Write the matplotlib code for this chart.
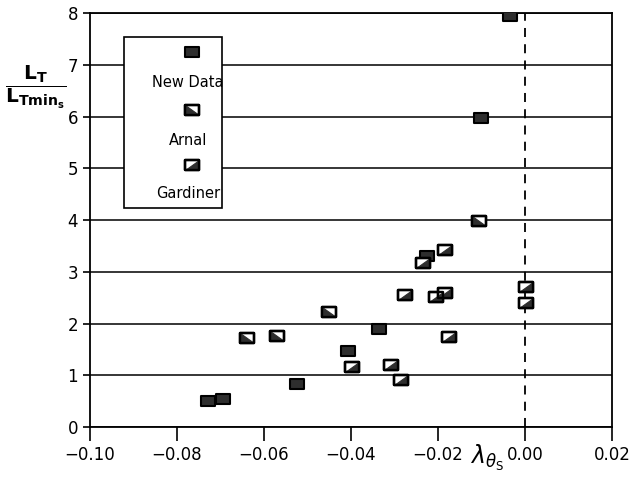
import numpy as np
import matplotlib
matplotlib.use("Agg")
import matplotlib.pyplot as plt
from matplotlib.path import Path

# ---- data ----
new_x = [-0.0034, -0.0100, -0.0226, -0.0336, -0.0408, -0.0525, -0.0728, -0.0694]
new_y = [7.94, 5.98, 3.30, 1.90, 1.47, 0.84, 0.50, 0.55]

arnal_x = [-0.0106, -0.0450, -0.0640, -0.0571]
arnal_y = [3.98, 2.23, 1.72, 1.76]

gard_x = [-0.0184, -0.0235, -0.0276, -0.0205, -0.0184, 0.0002, 0.0002,
          -0.0174, -0.0398, -0.0307, -0.0286]
gard_y = [3.42, 3.16, 2.55, 2.52, 2.59, 2.70, 2.39,
          1.73, 1.15, 1.20, 0.91]

xticks = [-0.10, -0.08, -0.06, -0.04, -0.02, 0.00, 0.02]
xticklabels = ["\u22120.10", "\u22120.08", "\u22120.06", "\u22120.04", "\u22120.02", "0.00", "0.02"]
yticks = list(range(0, 9))
legend_labels = ["New Data", "Arnal", "Gardiner"]

# ---- marker shapes ----
h = 0.72
rect = Path([(-1, -h), (1, -h), (1, h), (-1, h), (-1, -h)],
            [Path.MOVETO, Path.LINETO, Path.LINETO, Path.LINETO, Path.CLOSEPOLY])
# Arnal: dark lower-left triangle (white upper-right)
tri_arnal = Path([(-1, h), (-1, -h), (1, -h), (-1, h)],
                 [Path.MOVETO, Path.LINETO, Path.LINETO, Path.CLOSEPOLY])
# Gardiner: dark lower-right triangle (white upper-left)
tri_gard = Path([(-1, -h), (1, -h), (1, h), (-1, -h)],
                [Path.MOVETO, Path.LINETO, Path.LINETO, Path.CLOSEPOLY])

MS = 9.5
DARK = "#2e2e2e"

fig = plt.figure(figsize=(6.33, 4.82), dpi=100)
ax = fig.add_axes([0.1422, 0.1141, 0.8246, 0.8589])

ax.set_xlim(-0.10, 0.02)
ax.set_ylim(0, 8)
ax.set_xticks(xticks)
ax.set_xticklabels(xticklabels)
ax.set_yticks(yticks)
ax.tick_params(axis="both", labelsize=12, direction="out", length=5, width=1.2, colors="black")
ax.tick_params(axis="x", length=10)
for s in ax.spines.values():
    s.set_linewidth(1.3)
ax.yaxis.grid(True, color="black", lw=1.1)
ax.set_axisbelow(True)

ax.axvline(0, color="black", lw=1.3, ls=(0, (5, 4)), zorder=1)


def draw(x, y, tri, transform=None):
    kw = {} if transform is None else {"transform": transform, "clip_on": False}
    if tri is None:
        ax.plot(x, y, ls="none", marker=rect, ms=MS, mfc=DARK, mec="black", mew=1.5, zorder=5, **kw)
    else:
        ax.plot(x, y, ls="none", marker=rect, ms=MS, mfc="white", mec="black", mew=1.7, zorder=5, **kw)
        ax.plot(x, y, ls="none", marker=tri, ms=MS, mfc=DARK, mec=DARK, mew=0.8, zorder=6, **kw)
        ax.plot(x, y, ls="none", marker=rect, ms=MS, mfc="none", mec="black", mew=1.7, zorder=7, **kw)


draw(new_x, new_y, None)
draw(arnal_x, arnal_y, tri_arnal)
draw(gard_x, gard_y, tri_gard)

# ---- legend (manual, markers above labels) ----
box = plt.Rectangle((0.065, 0.529), 0.188, 0.413, transform=ax.transAxes,
                    facecolor="white", edgecolor="black", lw=1.2, zorder=4)
ax.add_patch(box)
lx = 0.195
draw([lx], [0.906], None, transform=ax.transAxes)
draw([lx], [0.766], tri_arnal, transform=ax.transAxes)
draw([lx], [0.633], tri_gard, transform=ax.transAxes)
for yy, lab in zip([0.833, 0.693, 0.565], legend_labels):
    ax.text(0.188, yy, lab, transform=ax.transAxes, ha="center", va="center",
            fontsize=10.5, zorder=8)

# ---- axis labels ----
fig.text(0.056, 0.818, r"$\dfrac{\mathbf{L_T}}{\mathbf{L_{Tmin_s}}}$", fontsize=14.5,
         ha="center", va="center")
ax.text(-0.0127, -0.075, r"$\lambda_{\theta_\mathrm{S}}$", transform=ax.get_xaxis_transform(),
        fontsize=17, ha="left", va="center")

fig.savefig("out.png", dpi=100)
